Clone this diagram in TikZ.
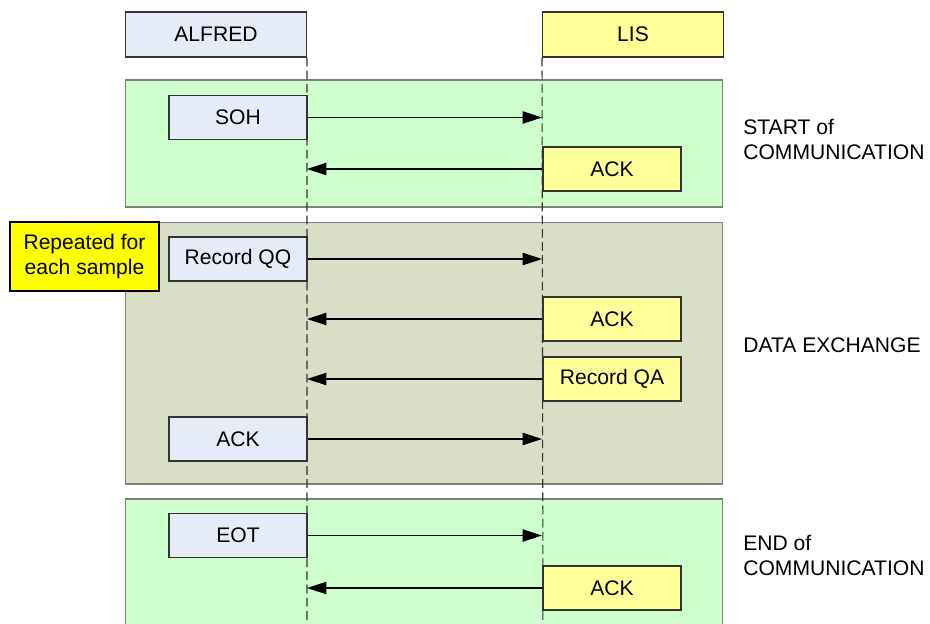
\documentclass[tikz,border=0pt]{standalone}
\usepackage{fontspec}
\setmainfont{Liberation Sans}
\usepackage{tikz}
\usetikzlibrary{arrows.meta,positioning}
\definecolor{alfredfill}{HTML}{E6ECF7}
\definecolor{lisfill}{HTML}{FFFF99}
\definecolor{phasefill}{HTML}{CCFFCC}
\definecolor{datafill}{HTML}{D9DEC6}
\definecolor{notefill}{HTML}{FFFF00}
\definecolor{edge}{HTML}{333333}

\begin{document}
\begin{tikzpicture}[
  x=0.02cm, y=-0.02cm,
  font=\fontsize{12}{14.2}\selectfont,
  actor/.style={draw=edge, line width=0.6pt, minimum width=3.62cm, minimum height=0.9cm, inner sep=0pt},
  phase/.style={draw=gray, line width=0.6pt, minimum width=11.96cm, inner sep=0pt},
  msgbox/.style={draw=edge, line width=0.6pt, minimum width=2.76cm, minimum height=0.88cm, inner sep=0pt},
  phaselabel/.style={anchor=west, align=left, inner sep=0pt},
  msg/.style={-{Triangle[length=11pt,width=7pt]}, line width=0.6pt},
  lifeline/.style={line width=0.6pt, edge, dash pattern=on 5pt off 2.5pt}
]
  \useasboundingbox (0,0) rectangle (930,623);
  \clip (0,0) rectangle (930,623);

  \node[phase, fill=phasefill, minimum height=2.54cm] (start) at (424,143.5) {};
  \node[phase, fill=datafill, minimum height=5.24cm] (data) at (424,353) {};
  \node[phase, fill=phasefill, minimum height=3.2cm] (finish) at (424,579) {};

  \node[phaselabel] (startlbl) at (743,139) {START of\\COMMUNICATION};
  \node[phaselabel] (datalbl) at (743,345) {DATA EXCHANGE};
  \node[phaselabel] (finishlbl) at (743,555) {END of\\COMMUNICATION};

  \node[actor, fill=alfredfill] (alfred) at (216,34.5) {ALFRED};
  \node[actor, fill=lisfill] (lis) at (633,34.5) {LIS};

  \coordinate (alfredend) at (307,640);
  \coordinate (lisend) at (543,640);
  \draw[lifeline] (alfred.south east) -- (alfredend);
  \draw[lifeline] (lis.south west) -- (lisend);

  \node[msgbox, fill=alfredfill] (soh) at (238,117.5) {SOH};
  \node[msgbox, fill=lisfill] (ack1) at (612,169) {ACK};

  \node[draw=black, line width=1.2pt, fill=notefill, minimum width=2.98cm, minimum height=1.38cm, align=center, inner sep=0pt] (note) at (84.5,256.5) {Repeated for\\each sample};
  \node[msgbox, fill=alfredfill] (recqq) at (238,259) {Record QQ};
  \node[msgbox, fill=lisfill] (ack2) at (612,319) {ACK};
  \node[msgbox, fill=lisfill] (recqa) at (612,379) {Record QA};
  \node[msgbox, fill=alfredfill] (ack3) at (238,439) {ACK};

  \node[msgbox, fill=alfredfill] (eot) at (238,535.5) {EOT};
  \node[msgbox, fill=lisfill] (ack4) at (612,588) {ACK};

  \draw[msg] (soh.east) -- (soh.east -| lis.west);
  \draw[msg] (ack1.west) -- (ack1.west -| alfred.east);
  \draw[msg] (recqq.east) -- (recqq.east -| lis.west);
  \draw[msg] (ack2.west) -- (ack2.west -| alfred.east);
  \draw[msg] (recqa.west) -- (recqa.west -| alfred.east);
  \draw[msg] (ack3.east) -- (ack3.east -| lis.west);
  \draw[msg] (eot.east) -- (eot.east -| lis.west);
  \draw[msg] (ack4.west) -- (ack4.west -| alfred.east);
\end{tikzpicture}
\end{document}
